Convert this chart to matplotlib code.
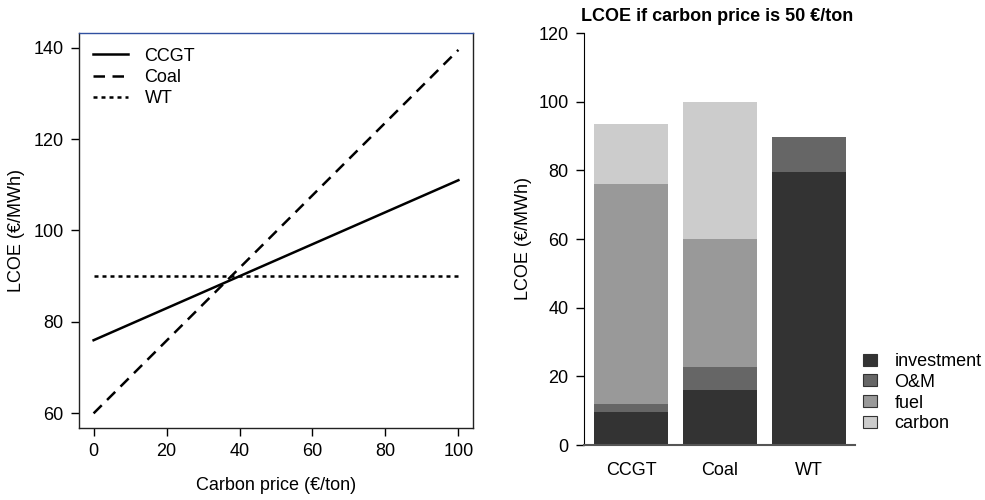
import numpy as np
import matplotlib
matplotlib.use("Agg")
import matplotlib.pyplot as plt
from matplotlib.patches import Patch

plt.rcParams['font.family'] = ['Liberation Sans', 'DejaVu Sans']

# left panel: LCOE vs carbon price
carbon_price = [0, 100]
lcoe_ccgt = [76, 111]
lcoe_coal = [60, 139.5]
lcoe_wt = [90, 90]

# right panel: LCOE breakdown at 50 EUR/ton
techs = ['CCGT', 'Coal', 'WT']
components = ['investment', 'O&M', 'fuel', 'carbon']
investment = [9.5, 16.0, 79.5]
om = [2.3, 6.7, 10.3]
fuel = [64.2, 37.3, 0.0]
carbon = [17.5, 40.0, 0.0]
colors = ['#333333', '#666666', '#999999', '#cccccc']

fig = plt.figure(figsize=(9.85, 5), dpi=100)
fs = 13

# ---- left
ax1 = fig.add_axes([0.0802, 0.144, 0.40, 0.79])
ax1.plot(carbon_price, lcoe_ccgt, color='black', lw=1.8, label='CCGT')
ax1.plot(carbon_price, lcoe_coal, color='black', lw=1.8, dashes=(4.6, 3.0), label='Coal')
ax1.plot(carbon_price, lcoe_wt, color='black', lw=1.8, dashes=(1.6, 1.6), label='WT')
ax1.set_xlim(-4, 104)
ax1.set_ylim(56.8, 143.2)
ax1.set_xticks([0, 20, 40, 60, 80, 100])
ax1.set_yticks([60, 80, 100, 120, 140])
ax1.tick_params(labelsize=fs, length=6, width=1, pad=5)
ax1.set_xlabel('Carbon price (€/ton)', fontsize=fs, labelpad=12)
ax1.set_ylabel('LCOE (€/MWh)', fontsize=fs, labelpad=6)
for s in ax1.spines.values():
    s.set_linewidth(1.0)
    s.set_color('#222222')
ax1.spines['top'].set_color('#3050a0')
ax1.legend(loc='upper left', frameon=False, fontsize=fs, handlelength=1.95,
           handletextpad=0.9, labelspacing=0.24, borderaxespad=0, borderpad=0,
           bbox_to_anchor=(0.0355, 0.963))

# ---- right
ax2 = fig.add_axes([0.5929, 0.11, 0.275, 0.824])
x = np.arange(len(techs)) * 1.2
bottom = np.zeros(len(techs))
for vals, c, name in zip([investment, om, fuel, carbon], colors, components):
    ax2.bar(x, vals, width=1.0, bottom=bottom, color=c, edgecolor='none', label=name)
    bottom += np.array(vals)
ax2.set_xlim(-0.635, 3.02)
ax2.set_ylim(0, 120)
ax2.set_yticks([0, 20, 40, 60, 80, 100, 120])
ax2.set_xticks(x)
ax2.set_xticklabels(techs)
ax2.tick_params(axis='y', labelsize=fs, length=6, width=1, pad=5)
ax2.tick_params(axis='x', labelsize=fs, length=0, pad=12)
ax2.spines['top'].set_visible(False)
ax2.spines['right'].set_visible(False)
ax2.spines['left'].set_color('black')
ax2.spines['bottom'].set_color('#555555')
ax2.spines['bottom'].set_linewidth(1.5)
ax2.set_ylabel('LCOE (€/MWh)', fontsize=fs, labelpad=5)
ax2.set_title('LCOE if carbon price is 50 €/ton', fontsize=fs, fontweight='bold',
              x=0.49, pad=9)

handles = [Patch(facecolor=c, edgecolor='#333333', linewidth=0.8) for c in colors]
fig.legend(handles, components, loc='upper left', frameon=False, fontsize=fs,
           handlelength=0.8, handleheight=0.65, handletextpad=0.95,
           labelspacing=0.21, borderpad=0, borderaxespad=0,
           bbox_to_anchor=(0.876, 0.294))

fig.savefig('out.png', dpi=100)
